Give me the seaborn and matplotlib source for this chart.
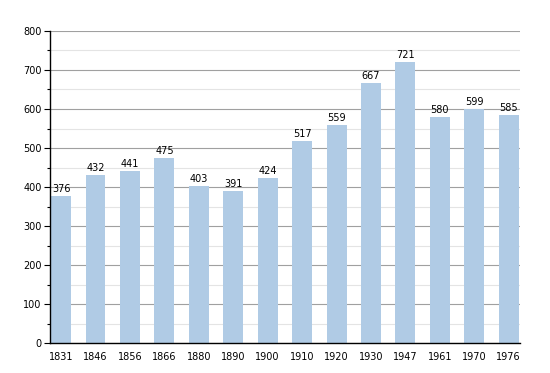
import matplotlib
matplotlib.use('Agg')
import matplotlib.pyplot as plt
import seaborn as sns
import pandas as pd
from matplotlib.ticker import MultipleLocator

# Population data
years = ['1831', '1846', '1856', '1866', '1880', '1890', '1900',
         '1910', '1920', '1930', '1947', '1961', '1970', '1976']
population = [376, 432, 441, 475, 403, 391, 424,
              517, 559, 667, 721, 580, 599, 585]

df = pd.DataFrame({'Année': years, 'Population': population})

sns.set_style('white')
plt.rcParams['font.family'] = ['DejaVu Sans']
plt.rcParams['text.color'] = 'black'
plt.rcParams['xtick.color'] = 'black'
plt.rcParams['ytick.color'] = 'black'

fig = plt.figure(figsize=(5.5, 3.73), dpi=100)
ax = fig.add_axes([0.091, 0.080, 0.854, 0.837])

sns.barplot(data=df, x='Année', y='Population', color='#b0cbe5',
            width=0.58, saturation=1, linewidth=0, edgecolor='none', ax=ax)
for p in ax.patches:
    p.set_zorder(3)

# grille
ax.set_ylim(0, 800)
ax.set_xlim(-0.32, len(years) - 1 + 0.32)
ax.yaxis.set_major_locator(MultipleLocator(100))
ax.yaxis.set_minor_locator(MultipleLocator(50))
ax.grid(axis='y', which='major', color='#a0a0a0', linewidth=0.8, zorder=0)
ax.grid(axis='y', which='minor', color='#e4e4e4', linewidth=0.8, zorder=0)
ax.set_axisbelow(True)

for s in ['top', 'right']:
    ax.spines[s].set_visible(False)
for s in ['left', 'bottom']:
    ax.spines[s].set_color('black')
    ax.spines[s].set_linewidth(1)
    ax.spines[s].set_zorder(4)

ax.tick_params(axis='y', which='major', left=True, length=4, width=0.8, labelsize=7, pad=2)
ax.tick_params(axis='y', which='minor', left=True, length=2, width=0.8)
ax.tick_params(axis='x', bottom=False, labelsize=7, pad=3)
ax.set_xlabel('')
ax.set_ylabel('')

for i, v in enumerate(population):
    ax.text(i, v + 5, str(v), ha='center', va='bottom', fontsize=7, color='black')

plt.savefig('out.png', dpi=100)
